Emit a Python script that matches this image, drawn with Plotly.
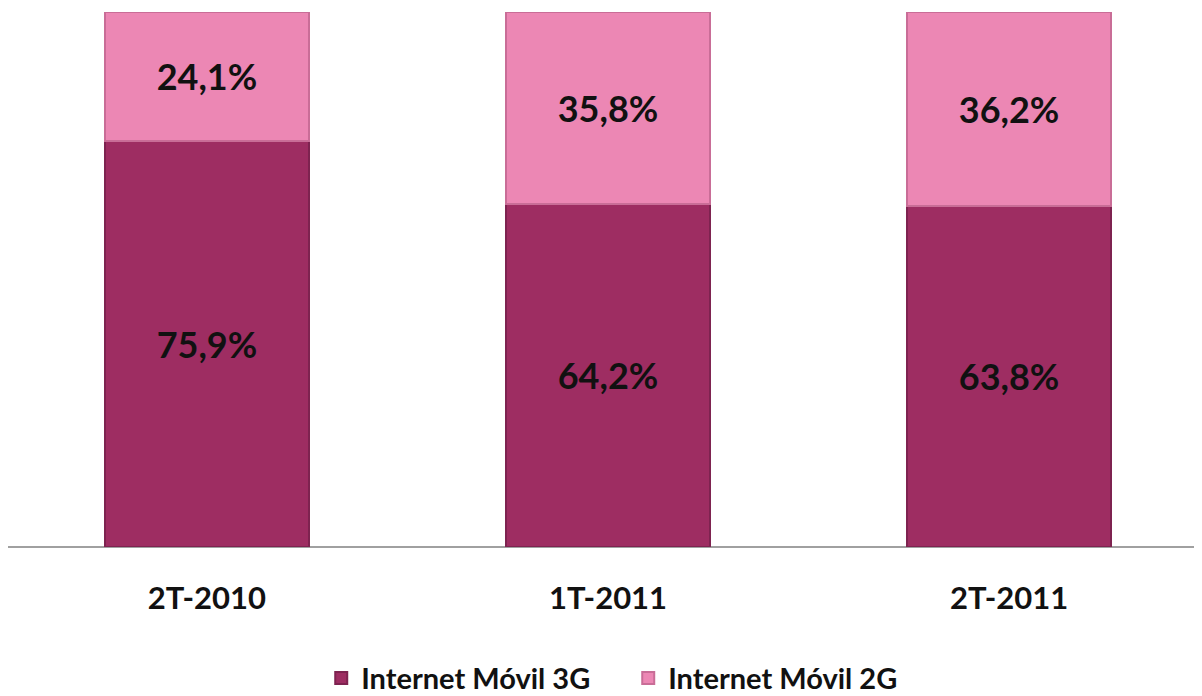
import plotly.graph_objects as go

categories = ["2T-2010", "1T-2011", "2T-2011"]
movil_3g = [75.9, 64.2, 63.8]
movil_2g = [24.1, 35.8, 36.2]
series_names = ["Internet Móvil 3G", "Internet Móvil 2G"]
colors = ["#9E2D62", "#EC87B4"]
line_colors = ["#7E2350", "#C96D97"]

def fmt(v):
    return f"{v:.1f}".replace(".", ",") + "%"

fig = go.Figure()
for vals, name, c, lc in zip([movil_3g, movil_2g], series_names, colors, line_colors):
    fig.add_trace(go.Bar(
        x=categories, y=vals, name=name,
        marker=dict(color=c, line=dict(color=lc, width=2)),
        width=0.51,
        text=[fmt(v) for v in vals],
        textposition="inside", insidetextanchor="middle",
        textfont=dict(family="Lato", size=36, color="#111111", weight="bold"),
        hoverinfo="skip",
    ))

fig.update_layout(
    barmode="stack",
    width=1202, height=696,
    margin=dict(l=0, r=0, t=4, b=149),
    paper_bgcolor="white", plot_bgcolor="white",
    showlegend=True,
    legend=dict(orientation="h", x=0.516, xanchor="center", y=-0.245, yanchor="middle",
                font=dict(family="Lato", size=29, color="#111111", weight="bold"),
                itemsizing="constant", traceorder="normal",
                entrywidth=262, entrywidthmode="pixels"),
    uniformtext=dict(mode=False),
)
fig.update_xaxes(range=[-0.496, 2.501], showgrid=False, showline=False, zeroline=False,
                 ticks="", ticklabelstandoff=30,
                 tickfont=dict(family="Lato", size=31, color="#111111", weight="bold"))
fig.update_yaxes(range=[0, 100], showgrid=False, showticklabels=False, zeroline=True,
                 zerolinecolor="#A0A0A0", zerolinewidth=1.5, showline=False)
fig.write_html("out.html")
